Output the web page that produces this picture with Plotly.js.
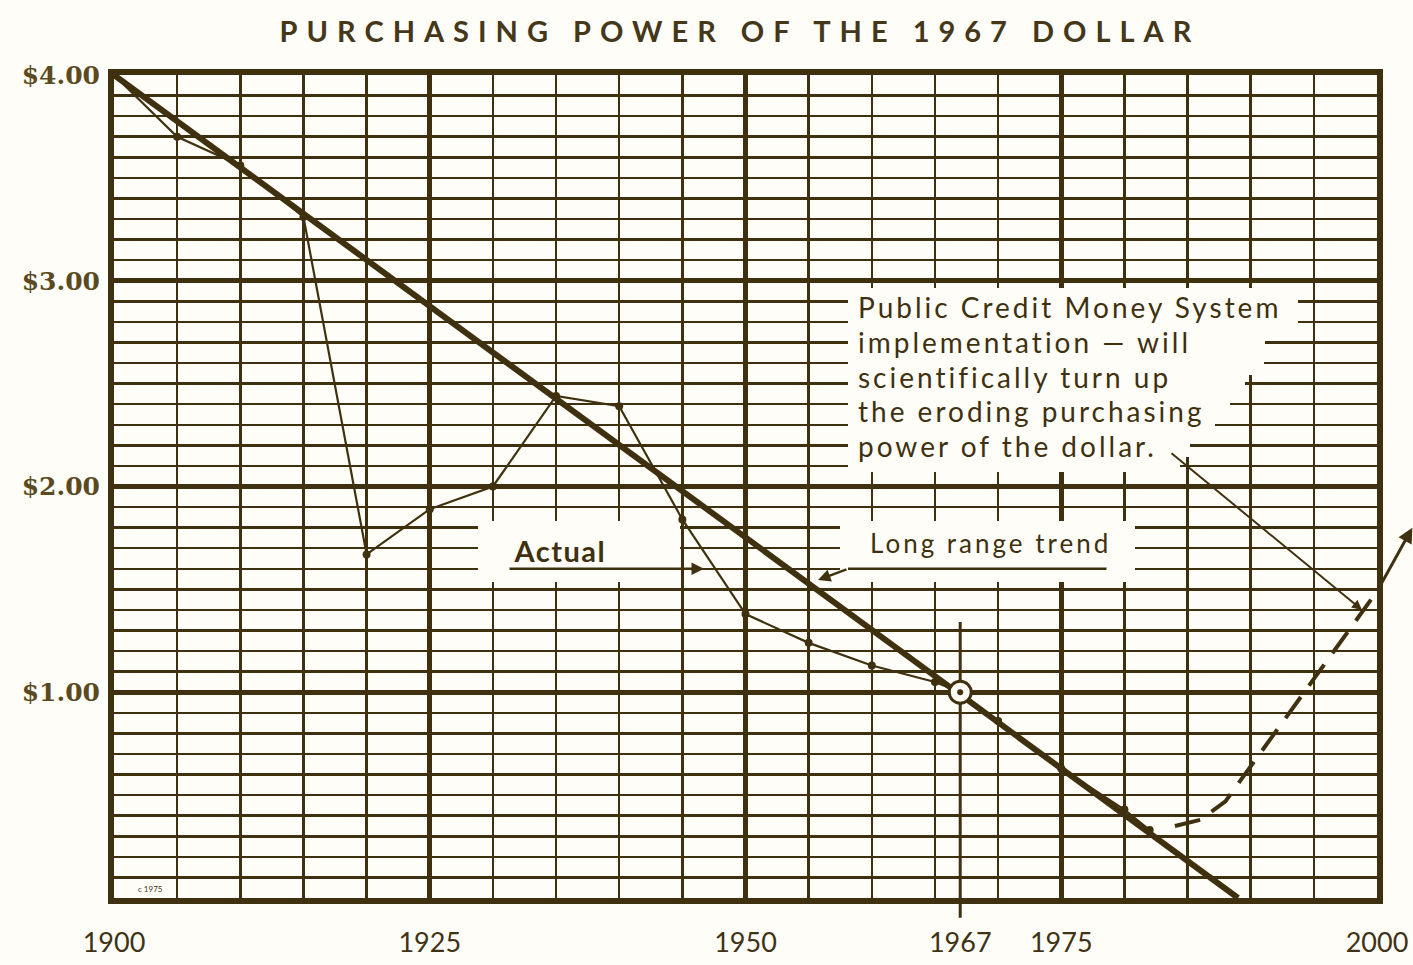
<!DOCTYPE html>
<html><head><meta charset="utf-8">
<script src="https://cdn.plot.ly/plotly-3.0.1.min.js"></script>
<style>html,body{margin:0;padding:0;background:#fefdf7;} #chart{width:1413px;height:965px;}</style>
</head><body><div id="chart"></div>
<script>
// ---------------- data ----------------
const actualYears  = [1900,1905,1910,1915,1920,1925,1930,1935,1940,1945,1950,1955,1960,1965,1967,1970,1975,1980,1982];
const actualValues = [4.00,3.70,3.56,3.31,1.67,1.89,2.00,2.44,2.39,1.84,1.38,1.24,1.13,1.05,1.00,0.86,0.63,0.43,0.33];
const trendYears   = [1900,1989];
const trendValues  = [4.00,0.00];
const projYears    = [1984,1986,1988,2000];
const projValues   = [0.35,0.38,0.47,1.49];
const projHeadYear = [2002.8];
const projHeadValue= [1.80];
const baseYear     = [1967];
const baseValue    = [1.00];
const xTickVals = [1900,1925,1950,1967,1975,2000];
const xTickText = ['1900','1925','1950','1967','1975','2000'];
const yTickVals = [1,2,3,4];
const yTickText = ['$1.00','$2.00','$3.00','$4.00'];
const titleText = 'PURCHASING POWER OF THE 1967 DOLLAR';
const noteLines = ['Public Credit Money System','implementation — will','scientifically turn up','the eroding purchasing','power of the dollar.'];
const actualLabel = 'Actual';
const trendLabel  = 'Long range trend';
const copyLabel   = 'c 1975';

// ---------------- styling / positioning ----------------
const INK = '#3f310f', BG = '#fefdf7';
const L = 114, R = 1377, T = 75, B = 898;
const X = px => 1900 + (px - L) * 100 / (R - L);
const Y = py => (B - py) * 4 / (B - T);

const traces = [
  {x: projYears, y: projValues, mode: 'lines', line: {color: INK, width: 4, dash: '26px,14px'}, hoverinfo: 'skip'},
  {x: actualYears, y: actualValues, mode: 'lines+markers', line: {color: INK, width: 2.2},
   marker: {color: INK, size: 8}, hoverinfo: 'skip'},
  {x: trendYears, y: trendValues, mode: 'lines', line: {color: INK, width: 6}, hoverinfo: 'skip'},
  {x: baseYear, y: baseValue, mode: 'markers', marker: {color: BG, size: 22, line: {color: INK, width: 3}}, hoverinfo: 'skip'},
  {x: baseYear, y: baseValue, mode: 'markers', marker: {color: INK, size: 6}, hoverinfo: 'skip'},
  {x: [xTickVals[0]], y: [0], xaxis: 'x2', yaxis: 'y', mode: 'markers', marker: {opacity: 0}, hoverinfo: 'skip'}
];

// white knock-outs behind the labels (hide the grid, not the lines)
const knock = [
  [848, 1298, 288, 314], [848, 1298, 314, 334], [848, 1265, 334, 355], [848, 1264, 355, 375],
  [848, 1245, 375, 396], [848, 1230, 396, 416], [848, 1215, 416, 437], [848, 1190, 437, 457],
  [848, 1180, 457, 472],
  [478, 680, 521, 582],
  [840, 1135, 521, 582]
];
const shapes = knock.map(k => ({type: 'rect', layer: 'between', xref: 'x', yref: 'y',
  x0: X(k[0]), x1: X(k[1]), y0: Y(k[3]), y1: Y(k[2]), fillcolor: BG, line: {width: 0}}));
shapes.push({type: 'line', layer: 'between', xref: 'x', yref: 'y', x0: baseYear[0], x1: baseYear[0],
  y0: 0, y1: Y(622), line: {color: INK, width: 3}});
shapes.push({type: 'line', layer: 'above', xref: 'x', yref: 'paper', x0: baseYear[0], x1: baseYear[0],
  y0: -0.024, y1: 0, line: {color: INK, width: 3}});

const fontTxt = {family: 'Lato, "Open Sans", sans-serif', size: 28, color: INK};
const centers = [307, 342, 377, 411, 446];
const spacing = [];
const annotations = noteLines.map((t, i) => { spacing.push('3px');
  return {text: t, xref: 'x', yref: 'y', x: X(856), y: Y(centers[i]), align: 'left',
  xanchor: 'left', yanchor: 'middle', showarrow: false, font: fontTxt}; });
annotations.push({text: actualLabel, xref: 'x', yref: 'y', x: X(560), y: Y(550), showarrow: false,
  font: {family: 'Lato', size: 29, color: INK, weight: 'bold'}}); spacing.push('1.5px');
annotations.push({text: trendLabel, xref: 'x', yref: 'y', x: X(990), y: Y(543), showarrow: false,
  font: {family: 'Lato', size: 26, color: INK}}); spacing.push('3px');
annotations.push({text: copyLabel, xref: 'x', yref: 'y', x: X(150), y: Y(889), showarrow: false,
  font: {family: 'Lato', size: 8, color: INK}}); spacing.push('0px');
const arrow = (hx, hy, tx, ty, head, w) => ({text: '', xref: 'x', yref: 'y', axref: 'x', ayref: 'y',
  x: hx, y: hy, ax: tx, ay: ty, showarrow: true, arrowhead: head, arrowsize: 1, arrowwidth: w,
  arrowcolor: INK, standoff: 0, startstandoff: 0});
annotations.push(arrow(X(704), 1.6, X(508), 1.6, 2, 2.5));
annotations.push(arrow(X(848), 1.6, X(1108), 1.6, 0, 2.5));
annotations.push(arrow(X(818), Y(580), X(848), 1.6, 2, 2.5));
annotations.push(arrow(X(1362), Y(610), X(1170), Y(452), 2, 2));
annotations.push(arrow(projHeadYear[0], projHeadValue[0], projYears[projYears.length-1], projValues[projValues.length-1], 2, 3));

const layout = {
  width: 1413, height: 965,
  margin: {l: L, r: 1413 - R, t: T, b: 965 - B, pad: 0},
  paper_bgcolor: BG, plot_bgcolor: BG, showlegend: false,
  title: {text: titleText, xref: 'container', yref: 'container', x: 740/1413, y: 1 - 32/965,
    xanchor: 'center', yanchor: 'middle', font: {family: 'Lato', size: 29, color: '#45371a', weight: 'bold'}},
  xaxis: {range: [1900, 2000], tickmode: 'array', tickvals: xTickVals, ticktext: xTickText,
    showgrid: false, zeroline: false,
    minor: {tick0: 1900, dtick: 5, showgrid: true, gridcolor: INK, gridwidth: 2.5, ticks: ''},
    showline: true, mirror: true, linecolor: INK, linewidth: 6,
    ticks: 'outside', ticklen: 16, tickcolor: 'rgba(0,0,0,0)',
    tickfont: {family: 'Lato', size: 27, color: '#403214'}, fixedrange: true},
  xaxis2: {overlaying: 'x', range: [1900, 2000], tickmode: 'linear', tick0: 1900, dtick: 25,
    showgrid: true, gridcolor: INK, gridwidth: 5, showticklabels: false, ticks: '',
    showline: false, zeroline: false, fixedrange: true},
  yaxis: {range: [0, 4], tickmode: 'array', tickvals: yTickVals, ticktext: yTickText,
    showgrid: true, gridcolor: INK, gridwidth: 5, zeroline: false,
    minor: {tick0: 0, dtick: 0.1, showgrid: true, gridcolor: INK, gridwidth: 2.5, ticks: ''},
    showline: true, mirror: true, linecolor: INK, linewidth: 6,
    ticks: 'outside', ticklen: 3, tickcolor: 'rgba(0,0,0,0)',
    tickfont: {family: '"DejaVu Serif", serif', size: 25, color: '#5b4a21', weight: 'bold'}, fixedrange: true},
  shapes: shapes, annotations: annotations
};

Plotly.newPlot('chart', traces, layout, {staticPlot: true}).then(() => {
  document.querySelectorAll('.gtitle').forEach(e => e.style.letterSpacing = '9px');
  document.querySelectorAll('.annotation').forEach(g => {
    const i = +g.getAttribute('data-index');
    const t = g.querySelector('.annotation-text');
    if (t && spacing[i]) t.style.letterSpacing = spacing[i];
  });
});
</script></body></html>
